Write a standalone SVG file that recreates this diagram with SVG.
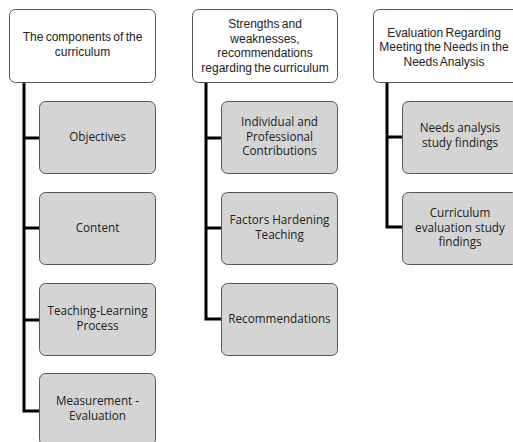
<svg xmlns="http://www.w3.org/2000/svg" width="513" height="442" viewBox="0 0 513 442">
<style>
.p{fill:#fff;stroke:#555;stroke-width:1}
.c{fill:#d4d4d4;stroke:#555;stroke-width:1}
text{font-family:"Open Sans","Liberation Sans",sans-serif;font-size:11.7px;fill:#222;text-anchor:middle}
.t{font-family:"Liberation Sans",Arial,sans-serif;font-size:12px;word-spacing:-1px}
.ln{stroke:#000;stroke-width:3;fill:none}
</style>
<rect width="513" height="442" fill="#fff"/>
<g id="connectors">
<path class="ln" d="M24 83V411M24 138H39M24 228H39M24 320H39M22.5 411H39"/>
<path class="ln" d="M206 82V319M206 138H221M206 228H221M204.5 319H221"/>
<path class="ln" d="M387 82V227M387 137H402M385.5 227H402"/>
</g>
<g id="n1"><rect class="p" x="9.5" y="9.5" width="146" height="73" rx="6"/>
<text class="t" x="82.5" y="41">The components of the</text><text class="t" x="82.5" y="56">curriculum</text></g>
<g id="n2"><rect class="p" x="192.5" y="9.5" width="145" height="73" rx="6"/>
<text class="t" x="265" y="28">Strengths and</text><text class="t" x="265" y="42.5">weaknesses,</text><text class="t" x="265" y="57">recommendations</text><text class="t" x="265" y="71.5">regarding the curriculum</text></g>
<g id="n3"><rect class="p" x="373.5" y="9.5" width="146" height="73" rx="6"/>
<text class="t" x="444" y="36.5">Evaluation Regarding</text><text class="t" x="444" y="51">Meeting the Needs in the</text><text class="t" x="444" y="65.5">Needs Analysis</text></g>
<g id="n1a"><rect class="c" x="39.5" y="101.5" width="116" height="72" rx="6"/><text x="97.5" y="141">Objectives</text></g>
<g id="n1b"><rect class="c" x="39.5" y="192.5" width="116" height="72" rx="6"/><text x="97.5" y="232">Content</text></g>
<g id="n1c"><rect class="c" x="39.5" y="283.5" width="116" height="72" rx="6"/><text x="97.5" y="315">Teaching-Learning</text><text x="97.5" y="329.5">Process</text></g>
<g id="n1d"><rect class="c" x="39.5" y="373.5" width="116" height="72" rx="6"/><text x="97.5" y="405">Measurement -</text><text x="97.5" y="419.5">Evaluation</text></g>
<g id="n2a"><rect class="c" x="221.5" y="101.5" width="116" height="72" rx="6"/><text x="279.5" y="126">Individual and</text><text x="279.5" y="140.5">Professional</text><text x="279.5" y="155">Contributions</text></g>
<g id="n2b"><rect class="c" x="221.5" y="192.5" width="116" height="72" rx="6"/><text x="279.5" y="224">Factors Hardening</text><text x="279.5" y="238.5">Teaching</text></g>
<g id="n2c"><rect class="c" x="221.5" y="283.5" width="116" height="72" rx="6"/><text x="279.5" y="323">Recommendations</text></g>
<g id="n3a"><rect class="c" x="402.5" y="101.5" width="116" height="72" rx="6"/><text x="460" y="132">Needs analysis</text><text x="460" y="146.5">study findings</text></g>
<g id="n3b"><rect class="c" x="402.5" y="192.5" width="116" height="72" rx="6"/><text x="460" y="217">Curriculum</text><text x="460" y="231.5">evaluation study</text><text x="460" y="246">findings</text></g>
</svg>
